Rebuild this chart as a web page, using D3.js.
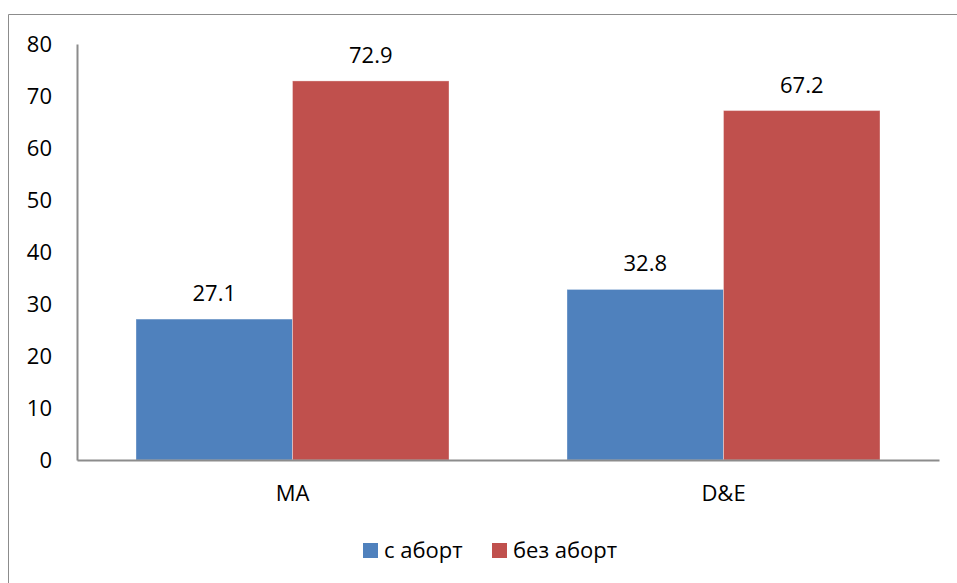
<!DOCTYPE html>
<html><head><meta charset="utf-8">
<script src="https://cdn.jsdelivr.net/npm/d3@7"></script>
<style>body{margin:0;background:#fff}svg{display:block}text{font-family:"Open Sans","Noto Sans",sans-serif;fill:#000}</style>
</head><body><svg id="c" width="957" height="583"></svg>
<script>
const categories = ["MA", "D&E"];
const seriesNames = ["с аборт", "без аборт"];
const seriesColors = ["#4F81BD", "#C0504D"];
const values = [[27.1, 32.8], [72.9, 67.2]];
const yTicks = [0, 10, 20, 30, 40, 50, 60, 70, 80];

const svg = d3.select("#c");
svg.append("path").attr("d", "M8.5,600V14.5H960").attr("fill", "none").attr("stroke", "#8c8c8c").attr("stroke-width", 1);

const x0 = 77, x1 = 939, yTop = 44, yBot = 460;
const x = d3.scaleBand().domain(categories).range([x0, x1]).paddingInner(0).paddingOuter(0);
const xs = d3.scaleBand().domain(seriesNames).range([0, x.bandwidth()]).paddingInner(0).paddingOuter(0.377);
const y = d3.scaleLinear().domain([0, 80]).range([yBot, yTop]);
const FS = "22px";

const ya = svg.append("g").attr("transform", `translate(${x0},0)`).call(d3.axisLeft(y).tickValues(yTicks).tickSize(0).tickPadding(25));
ya.attr("font-family", null).attr("font-size", null);
ya.select(".domain").attr("stroke", "#8c8c8c").attr("stroke-width", 2);
ya.selectAll("text").style("font-size", FS).attr("dy", "0.36em");

const groups = svg.append("g").selectAll("g").data(seriesNames).join("g");
groups.each(function(s, si) {
  d3.select(this).selectAll("rect").data(categories).join("rect")
    .attr("x", c => x(c) + xs(s))
    .attr("y", (c, ci) => y(values[si][ci]))
    .attr("width", xs.bandwidth())
    .attr("height", (c, ci) => yBot - y(values[si][ci]))
    .attr("fill", seriesColors[si])
    .attr("stroke", "#ffffff").attr("stroke-opacity", 0.35).attr("stroke-width", 1);
  d3.select(this).selectAll("text").data(categories).join("text")
    .attr("x", c => x(c) + xs(s) + xs.bandwidth() / 2)
    .attr("y", (c, ci) => y(values[si][ci]) - 18)
    .attr("text-anchor", "middle").style("font-size", FS)
    .text((c, ci) => values[si][ci].toFixed(1));
});

const xa = svg.append("g").attr("transform", `translate(0,${yBot})`).call(d3.axisBottom(x).tickSize(0).tickPadding(25));
xa.attr("font-family", null).attr("font-size", null);
xa.select(".domain").attr("stroke", "#8c8c8c").attr("stroke-width", 2);
xa.selectAll("text").style("font-size", FS);

const legX = [363, 492];
const leg = svg.append("g").selectAll("g").data(seriesNames).join("g")
  .attr("transform", (d, i) => `translate(${legX[i]},543)`);
leg.append("rect").attr("width", 15).attr("height", 15).attr("fill", (d, i) => seriesColors[i]);
leg.append("text").attr("x", 21).attr("y", 15).style("font-size", FS).text(d => d);
</script></body></html>
